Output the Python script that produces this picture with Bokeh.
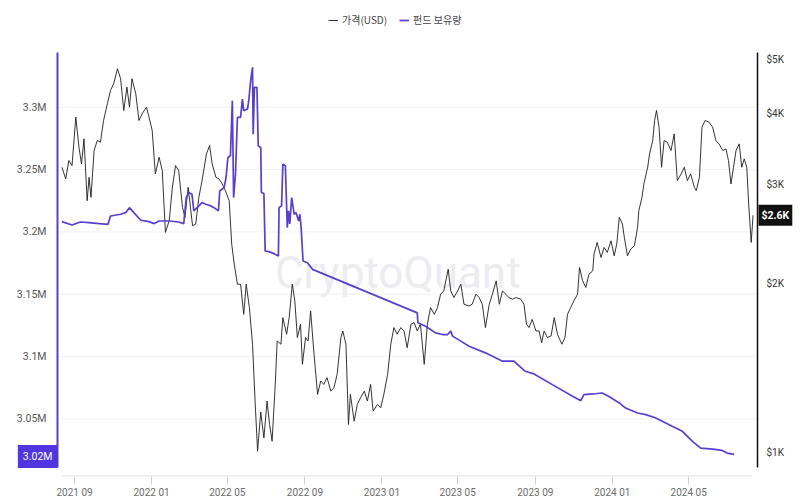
import math
import pandas as pd
from bokeh.plotting import figure
from bokeh.core.properties import value
from bokeh.models import (Range1d, LogScale, FixedTicker, CustomJSTickFormatter, Label,
                          Legend, LegendItem, ColumnDataSource)
from bokeh.embed import file_html
from bokeh.resources import INLINE

# ---------------- data ----------------
price_dates = [
    "2021-08-12", "2021-08-18", "2021-08-23", "2021-08-28", "2021-09-03", "2021-09-08", "2021-09-12",
    "2021-09-16", "2021-09-21", "2021-09-24", "2021-09-27", "2021-10-02", "2021-10-07", "2021-10-12",
    "2021-10-17", "2021-10-23", "2021-10-28", "2021-11-02", "2021-11-08", "2021-11-13", "2021-11-18",
    "2021-11-23", "2021-11-27", "2021-12-01", "2021-12-07", "2021-12-12", "2021-12-17", "2021-12-24",
    "2021-12-28", "2022-01-02", "2022-01-07", "2022-01-13", "2022-01-18", "2022-01-23", "2022-01-29",
    "2022-02-03", "2022-02-08", "2022-02-13", "2022-02-19", "2022-02-23", "2022-02-28", "2022-03-07",
    "2022-03-12", "2022-03-17", "2022-03-22", "2022-03-29", "2022-04-03", "2022-04-07", "2022-04-13",
    "2022-04-18", "2022-04-23", "2022-04-28", "2022-05-04", "2022-05-08", "2022-05-12", "2022-05-17",
    "2022-05-22", "2022-05-27", "2022-05-31", "2022-06-05", "2022-06-10", "2022-06-14", "2022-06-18",
    "2022-06-23", "2022-06-28", "2022-07-03", "2022-07-07", "2022-07-11", "2022-07-16", "2022-07-19",
    "2022-07-25", "2022-07-28", "2022-08-03", "2022-08-07", "2022-08-12", "2022-08-16", "2022-08-20",
    "2022-08-25", "2022-08-28", "2022-09-02", "2022-09-06", "2022-09-10", "2022-09-15", "2022-09-21",
    "2022-09-26", "2022-10-01", "2022-10-06", "2022-10-12", "2022-10-17", "2022-10-22", "2022-10-28",
    "2022-10-31", "2022-11-05", "2022-11-09", "2022-11-12", "2022-11-18", "2022-11-23", "2022-11-28",
    "2022-12-04", "2022-12-09", "2022-12-14", "2022-12-18", "2022-12-25", "2022-12-30", "2023-01-04",
    "2023-01-10", "2023-01-15", "2023-01-20", "2023-01-25", "2023-01-31", "2023-02-05", "2023-02-10",
    "2023-02-16", "2023-02-21", "2023-02-26", "2023-03-03", "2023-03-09", "2023-03-14", "2023-03-19",
    "2023-03-25", "2023-03-30", "2023-04-04", "2023-04-09", "2023-04-16", "2023-04-20", "2023-04-25",
    "2023-05-01", "2023-05-06", "2023-05-11", "2023-05-19", "2023-05-24", "2023-05-30", "2023-06-04",
    "2023-06-09", "2023-06-14", "2023-06-20", "2023-06-25", "2023-07-01", "2023-07-06", "2023-07-11",
    "2023-07-16", "2023-07-21", "2023-07-27", "2023-08-01", "2023-08-09", "2023-08-14", "2023-08-18",
    "2023-08-22", "2023-08-27", "2023-09-02", "2023-09-07", "2023-09-11", "2023-09-15", "2023-09-20",
    "2023-09-26", "2023-10-01", "2023-10-06", "2023-10-13", "2023-10-18", "2023-10-22", "2023-10-27",
    "2023-11-01", "2023-11-07", "2023-11-10", "2023-11-15", "2023-11-20", "2023-11-25", "2023-12-01",
    "2023-12-03", "2023-12-08", "2023-12-14", "2023-12-19", "2023-12-24", "2023-12-30", "2024-01-04",
    "2024-01-08", "2024-01-12", "2024-01-17", "2024-01-20", "2024-01-25", "2024-01-30", "2024-02-05",
    "2024-02-10", "2024-02-12", "2024-02-17", "2024-02-20", "2024-02-26", "2024-02-29", "2024-03-05",
    "2024-03-08", "2024-03-11", "2024-03-15", "2024-03-19", "2024-03-23", "2024-03-28", "2024-04-03",
    "2024-04-08", "2024-04-13", "2024-04-19", "2024-04-24", "2024-04-29", "2024-05-04", "2024-05-10",
    "2024-05-13", "2024-05-18", "2024-05-22", "2024-05-27", "2024-06-02", "2024-06-08", "2024-06-13",
    "2024-06-18", "2024-06-24", "2024-06-29", "2024-07-03", "2024-07-07", "2024-07-11", "2024-07-15",
    "2024-07-20", "2024-07-24", "2024-07-28", "2024-08-01", "2024-08-04", "2024-08-08", "2024-08-11",
]
price_usd = [
    3213, 3063, 3303, 3235, 3945, 3488, 3258,
    3609, 2802, 3084, 2841, 3441, 3585, 3560,
    3891, 4167, 4401, 4523, 4810, 4617, 4054,
    4462, 4110, 4617, 4341, 3891, 3999, 4110,
    3945, 3735, 3127, 3348, 3170, 2461, 2582,
    2960, 3235, 3170, 2727, 2617, 2960, 2529,
    2547, 2841, 3042, 3394, 3512, 3258, 3084,
    3063, 3001, 2920, 2802, 2346, 2161, 1991,
    1991, 1760, 1991, 1809, 1557, 1234, 1005,
    1180, 1061, 1234, 1121, 1047, 1321, 1578,
    1557, 1736, 1622, 1736, 1991, 1859, 1600,
    1690, 1434, 1600, 1578, 1785, 1514, 1268,
    1339, 1321, 1358, 1285, 1303, 1376, 1600,
    1644, 1557, 1121, 1268, 1136, 1217, 1250,
    1285, 1234, 1321, 1184, 1217, 1200, 1268,
    1376, 1557, 1667, 1622, 1667, 1644, 1535,
    1690, 1701, 1644, 1690, 1434, 1690, 1809,
    1760, 1809, 1911, 1937, 2117, 1937, 1885,
    1937, 1991, 1834, 1821, 1834, 1911, 1885,
    1834, 1667, 1834, 1911, 2018, 1834, 1937,
    1911, 1885, 1872, 1885, 1872, 1834, 1690,
    1667, 1724, 1644, 1644, 1567, 1644, 1600,
    1611, 1736, 1622, 1557, 1600, 1760, 1809,
    1859, 1911, 2132, 2018, 1964, 2074, 2103,
    2252, 2362, 2221, 2314, 2267, 2378, 2236,
    2346, 2617, 2547, 2411, 2236, 2298, 2330,
    2512, 2690, 2841, 3001, 3213, 3394, 3585,
    3891, 4054, 3786, 3213, 3585, 3560, 3441,
    3684, 3042, 3127, 3213, 3042, 3127, 2960,
    2920, 3084, 3786, 3891, 3865, 3786, 3585,
    3536, 3441, 3464, 3303, 3001, 3213, 3441,
    3536, 3213, 3325, 3213, 2765, 2362, 2640,
]

hold_dates = [
    "2021-08-12", "2021-08-28", "2021-09-10", "2021-09-24", "2021-10-10", "2021-10-24", "2021-10-28",
    "2021-11-13", "2021-11-21", "2021-11-27", "2021-12-04", "2021-12-15", "2021-12-28", "2022-01-05",
    "2022-01-13", "2022-01-29", "2022-02-13", "2022-02-21", "2022-02-25", "2022-03-01", "2022-03-06",
    "2022-03-09", "2022-03-17", "2022-03-22", "2022-03-28", "2022-04-05", "2022-04-10", "2022-04-17",
    "2022-04-19", "2022-04-26", "2022-04-29", "2022-05-02", "2022-05-06", "2022-05-09", "2022-05-11",
    "2022-05-14", "2022-05-17", "2022-05-22", "2022-05-25", "2022-05-27", "2022-06-02", "2022-06-04",
    "2022-06-07", "2022-06-10", "2022-06-11", "2022-06-13", "2022-06-17", "2022-06-19", "2022-06-23",
    "2022-06-24", "2022-06-28", "2022-06-30", "2022-07-06", "2022-07-14", "2022-07-21", "2022-07-22",
    "2022-07-26", "2022-07-28", "2022-08-01", "2022-08-04", "2022-08-06", "2022-08-08", "2022-08-11",
    "2022-08-15", "2022-08-18", "2022-08-22", "2022-08-24", "2022-08-26", "2022-08-29", "2022-09-05",
    "2022-09-13", "2023-02-26", "2023-02-27", "2023-03-11", "2023-03-27", "2023-04-07", "2023-04-15",
    "2023-04-20", "2023-04-23", "2023-05-06", "2023-05-19", "2023-06-14", "2023-07-11", "2023-07-29",
    "2023-08-16", "2023-08-30", "2023-09-28", "2023-10-30", "2023-11-12", "2023-11-17", "2023-12-01",
    "2023-12-16", "2023-12-26", "2024-01-12", "2024-01-22", "2024-02-10", "2024-02-23", "2024-03-10",
    "2024-03-31", "2024-04-21", "2024-05-07", "2024-05-20", "2024-06-08", "2024-06-23", "2024-07-01",
    "2024-07-12",
]
hold_m = [
    3.2083, 3.2056, 3.2080, 3.2075, 3.2067, 3.2061, 3.2128,
    3.2142, 3.2155, 3.2195, 3.2155, 3.2094, 3.2083, 3.2067,
    3.2088, 3.2088, 3.2080, 3.2067, 3.2276, 3.2316, 3.2303,
    3.2169, 3.2209, 3.2236, 3.2222, 3.2209, 3.2195, 3.2169,
    3.2329, 3.2356, 3.2437, 3.2597, 3.2611, 3.3053, 3.2276,
    3.2463, 3.2919, 3.2919, 3.3066, 3.2973, 3.2986, 3.3053,
    3.3214, 3.3321, 3.2785, 3.3160, 3.3160, 3.2691, 3.2678,
    3.2316, 3.2308, 3.1847, 3.1842, 3.1826, 3.1807, 3.2195,
    3.2209, 3.2544, 3.2531, 3.2035, 3.2169, 3.2064, 3.2276,
    3.2142, 3.2155, 3.2088, 3.2142, 3.2035, 3.1767, 3.1753,
    3.1700, 3.1351, 3.1271, 3.1244, 3.1190, 3.1177, 3.1177,
    3.1204, 3.1164, 3.1124, 3.1083, 3.1030, 3.0963, 3.0963,
    3.0882, 3.0861, 3.0775, 3.0681, 3.0646, 3.0695, 3.0700,
    3.0708, 3.0681, 3.0628, 3.0587, 3.0547, 3.0534, 3.0507,
    3.0453, 3.0400, 3.0319, 3.0266, 3.0258, 3.0247, 3.0226,
    3.0215,
]

x_tick_dates = ["2021-09-01", "2022-01-01", "2022-05-01", "2022-09-01", "2023-01-01",
                "2023-05-01", "2023-09-01", "2024-01-01", "2024-05-01"]
left_ticks = [3.05, 3.1, 3.15, 3.2, 3.25, 3.3]
right_ticks = [1000, 2000, 3000, 4000, 5000]
last_hold_label = "3.02M"
last_price_label = "$2.6K"
series_names = ["가격(USD)", "펀드 보유량"]

# ---------------- styling / layout ----------------
PURPLE = "#5540D0"
BOX_PURPLE = "#4F36E0"
PRICE_COLOR = "#1e1e1e"
FONT = "Roboto"
KR_FONT = "Noto Sans CJK KR"

W, FRAME_H = 800, 476            # canvas width, frame height (date axis sits below)
AREA_L, AREA_R = 57, 757         # plot-area edges in px (left/right value axes)
AREA_T, AREA_B = 52, 467         # plot-area edges in px
Y_LEFT = (3.011, 3.344)          # holdings range over the plot area
Y_RIGHT = (940, 5140)            # price range over the plot area (log)


def ms(d):
    return pd.Timestamp(d).value / 1e6


x_start, x_end = ms("2021-08-05"), ms("2024-08-18")

# extend every range so that the plot area keeps its place while the frame fills the canvas
sx = (x_end - x_start) / (AREA_R - AREA_L)
sy = (Y_LEFT[1] - Y_LEFT[0]) / (AREA_B - AREA_T)
l0, l1 = math.log10(Y_RIGHT[0]), math.log10(Y_RIGHT[1])
sl = (l1 - l0) / (AREA_B - AREA_T)

x_rng = Range1d(x_start - AREA_L * sx, x_end + (W - AREA_R) * sx)
y_rng = Range1d(Y_LEFT[0] - (FRAME_H - AREA_B) * sy, Y_LEFT[1] + AREA_T * sy)
p_rng = Range1d(10 ** (l0 - (FRAME_H - AREA_B) * sl), 10 ** (l1 + AREA_T * sl))

p = figure(frame_width=W, frame_height=FRAME_H, output_backend="svg", toolbar_location=None,
           x_axis_type="datetime", y_axis_location=None,
           x_range=x_rng, y_range=y_rng,
           min_border=0, min_border_left=0, min_border_right=0, min_border_top=0,
           min_border_bottom=0,
           outline_line_color=None, background_fill_color="white", border_fill_color="white")
p.title.visible = False
p.extra_y_ranges = {"price": p_rng}
p.extra_y_scales = {"price": LogScale()}
p.grid.visible = False

# ---- date axis (real bokeh axis under the frame) ----
xax = p.xaxis[0]
xax.ticker = FixedTicker(ticks=[ms(d) for d in x_tick_dates])
xax.formatter = CustomJSTickFormatter(code="""
    const d = new Date(tick);
    return d.getUTCFullYear() + ' ' + String(d.getUTCMonth() + 1).padStart(2, '0');
""")
xax.axis_line_alpha = 0
xax.major_tick_line_color = "#cfcfcf"
xax.major_tick_out = 8
xax.major_tick_in = 0
xax.minor_tick_out = 0
xax.minor_tick_in = 0
xax.major_label_standoff = 2
xax.major_label_text_font = FONT
xax.major_label_text_font_size = "10px"
xax.major_label_text_color = "#6b6b6b"

# baseline of the date axis (short of the frame edges, as in the reference)
p.segment(x0=[x_start + 4 * sx], x1=[x_end - 5 * sx],
          y0=[y_rng.start + 0.5 * sy], y1=[y_rng.start + 0.5 * sy],
          line_color="#dcdcdc", line_width=1)

# ---- horizontal grid at the holdings ticks ----
p.segment(x0=[x_start] * len(left_ticks), x1=[x_end] * len(left_ticks),
          y0=left_ticks, y1=left_ticks, line_color="#f1f1f1", line_width=1)

# watermark
p.add_layout(Label(x=ms("2023-01-26"), y=3.167, text="CryptoQuant", text_align="center",
                   text_baseline="middle", text_font=FONT, text_font_size="44px",
                   text_color="#ececf1", level="underlay"))

# ---- series ----
price_src = ColumnDataSource(dict(x=[ms(d) for d in price_dates], y=price_usd))
hold_src = ColumnDataSource(dict(x=[ms(d) for d in hold_dates], y=hold_m))

price_r = p.line("x", "y", source=price_src, line_color=PRICE_COLOR, line_width=1,
                 line_alpha=0.9, y_range_name="price")
hold_r = p.line("x", "y", source=hold_src, line_color=PURPLE, line_width=1.7)

# ---- value axes: lines + tick labels ----
p.segment(x0=[x_start], x1=[x_start], y0=[Y_LEFT[0]], y1=[Y_LEFT[1]],
          line_color=PURPLE, line_width=2)
p.segment(x0=[x_end], x1=[x_end], y0=[Y_RIGHT[0]], y1=[Y_RIGHT[1]],
          line_color="#111111", line_width=1.5, y_range_name="price")

p.text(x=[x_start] * len(left_ticks), y=left_ticks,
       text=[f"{t:g}M" for t in left_ticks], x_offset=-11,
       text_align="right", text_baseline="middle", text_font=value(FONT),
       text_font_size="10.5px", text_color="#555555")
p.text(x=[x_end] * len(right_ticks), y=right_ticks,
       text=[f"${t // 1000}K" for t in right_ticks], x_offset=9, y_range_name="price",
       text_align="left", text_baseline="middle", text_font=value(FONT),
       text_font_size="10px", text_color="#333333")

# ---- last-value badges ----
lb = Label(x=x_start, y=hold_m[-1], text=last_hold_label, x_offset=0, y_offset=-2,
           text_align="right", text_baseline="middle", text_font=FONT,
           text_font_size="10.5px", text_color="white",
           background_fill_color=BOX_PURPLE, background_fill_alpha=1.0)
rb = Label(x=x_end, y=price_usd[-1], y_range_name="price", text=last_price_label, x_offset=1,
           text_align="left", text_baseline="middle", text_font=FONT,
           text_font_size="10.5px", text_font_style="bold", text_color="white",
           background_fill_color="#111111", background_fill_alpha=1.0)
if "padding" in lb.properties():
    lb.padding = (5, 5)
    rb.padding = (3, 4)
p.add_layout(lb)
p.add_layout(rb)

# ---- legend (inside the frame, above the plot area) ----
legend = Legend(items=[LegendItem(label=series_names[0], renderers=[price_r]),
                       LegendItem(label=series_names[1], renderers=[hold_r])],
                location=(328, FRAME_H - 27), orientation="horizontal",
                label_text_font=KR_FONT, label_text_font_size="10px", label_text_color="#444444",
                glyph_width=10, glyph_height=12, label_height=12, label_standoff=4, spacing=12,
                padding=0, margin=0, border_line_color=None, background_fill_alpha=0)
p.add_layout(legend)

open("out.html", "w").write(file_html(p, INLINE))
